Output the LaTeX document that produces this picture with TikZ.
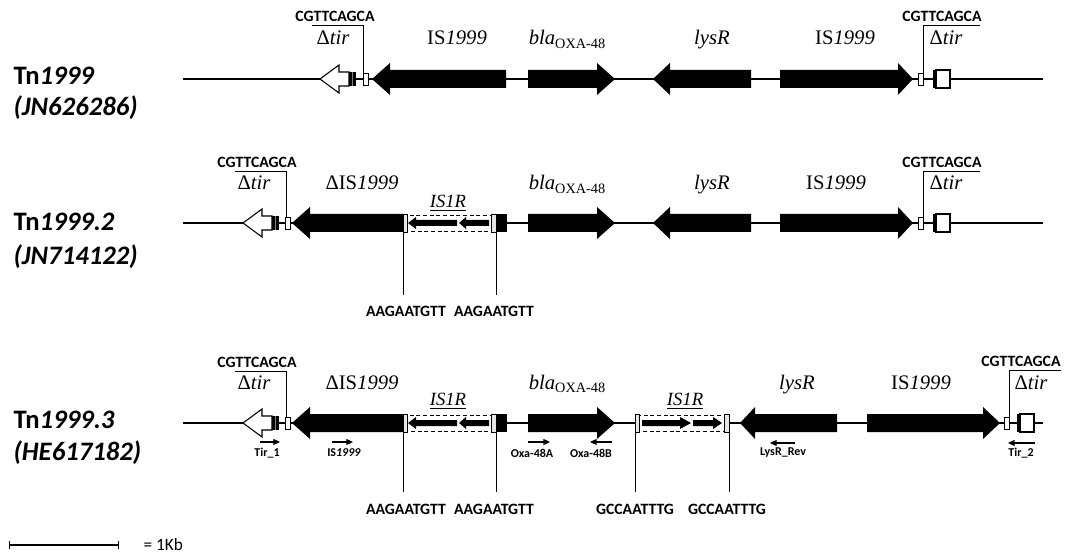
\documentclass[tikz,border=0pt]{standalone}
\usepackage{fontspec}
\setmainfont{Liberation Serif}
\setsansfont{Carlito}
\usetikzlibrary{arrows.meta}

% gene arrow: y, tail, head base, tip
\newcommand{\genearrow}[4]{\fill (#2,#1-9) -- (#3,#1-9) -- (#3,#1-16) -- (#4,#1) -- (#3,#1+16) -- (#3,#1+9) -- (#2,#1+9) -- cycle;}
% small arrow inside IS1R
\newcommand{\minigene}[4]{\fill (#2,#1-3) -- (#3,#1-3) -- (#3,#1-6) -- (#4,#1) -- (#3,#1+6) -- (#3,#1+3) -- (#2,#1+3) -- cycle;}
% white tir remnant (left) and tir box (right)
\newcommand{\tirleft}[2]{%
  \filldraw[fill=white,line width=0.8pt] (#2+29,#1-7) -- (#2+19,#1-7) -- (#2+19,#1-14) -- (#2,#1) -- (#2+19,#1+14) -- (#2+19,#1+7) -- (#2+29,#1+7) -- cycle;
  \fill (#2+29,#1-7) rectangle (#2+36,#1+7);
  \draw[gray,line width=0.5pt] (#2+32.5,#1-7) -- (#2+32.5,#1+7);}
\newcommand{\tirright}[2]{%
  \filldraw[fill=white,line width=1pt] (#2+3,#1-9) rectangle (#2+17,#1+9);
  \fill (#2,#1-9) rectangle (#2+4,#1+9);}
\newcommand{\irrect}[2]{\filldraw[fill=white,line width=0.6pt] (#2,#1-6) rectangle (#2+5,#1+6);}
% IS1R insertion: y, left end, right end
\newcommand{\isonebox}[3]{%
  \filldraw[fill=white,dash pattern=on 3pt off 2pt,line width=0.7pt] (#2+4,#1-8) rectangle (#3-5,#1+8);
  \filldraw[fill=gray!20,line width=0.6pt] (#2,#1-9) rectangle (#2+4,#1+9);
  \filldraw[fill=gray!20,line width=0.6pt] (#3-5,#1-9) rectangle (#3,#1+9);}
\newcommand{\oxa}{\textit{bla}\raisebox{-0.35ex}{\fontsize{10.7}{12}\selectfont OXA-48}}

\begin{document}
\begin{tikzpicture}[x=0.75pt,y=-0.75pt,line width=0.9pt,
  gn/.style={font=\fontsize{15.5}{18}\selectfont,inner sep=0pt,anchor=base},
  isr/.style={font=\fontsize{14}{16}\selectfont\itshape,inner sep=0pt,anchor=base},
  tag/.style={font=\sffamily\bfseries\fontsize{11.8}{13}\selectfont,inner sep=0pt,anchor=base},
  primer/.style={font=\sffamily\bfseries\fontsize{9}{11}\selectfont,inner sep=0pt},
  tn/.style={font=\sffamily\bfseries\fontsize{20}{24}\selectfont,inner sep=0pt,anchor=base west},
  pr/.style={line width=0.8pt,-{Triangle[length=5pt,width=4.5pt]}}]
  \useasboundingbox (0,0) rectangle (1066,555);

  % backbones
  \foreach \y in {79,223,423} \draw (183,\y) -- (1043,\y);

  % Tn1999
  \node[tn] (tn1) at (13,85) {Tn\textit{1999}};
  \node[tn] (acc1) at (13,116) {\textit{(JN626286)}};
  \tirleft{79}{320}
  \irrect{79}{363}
  \genearrow{79}{506}{390}{372}
  \genearrow{79}{528}{597}{615}
  \genearrow{79}{751}{670}{653}
  \genearrow{79}{780}{898}{913}
  \irrect{79}{918}
  \tirright{79}{933}
  \node[tag] (cg1l) at (335,22) {CGTTCAGCA};
  \draw[line width=0.6pt] (312,25) -- (363,25) -- (363,73);
  \node[tag] (cg1r) at (942,22) {CGTTCAGCA};
  \draw[line width=0.6pt] (980,25) -- (923,25) -- (923,73);
  \node[gn] (tir1l) at (333,45) {Δ\textit{tir}};
  \node[gn] (is1a) at (457,45) {IS\textit{1999}};
  \node[gn] (bla1) at (567,45) {\oxa};
  \node[gn] (lys1) at (712,45) {\textit{lysR}};
  \node[gn] (is1b) at (845,45) {IS\textit{1999}};
  \node[gn] (tir1r) at (946,45) {Δ\textit{tir}};

  % Tn1999.2
  \node[tn] (tn2) at (13,231) {Tn\textit{1999.2}};
  \node[tn] (acc2) at (13,265) {\textit{(JN714122)}};
  \tirleft{223}{243}
  \irrect{223}{285}
  \genearrow{223}{403}{310}{292}
  \isonebox{223}{403}{496}
  \minigene{223}{457}{416}{408}
  \minigene{223}{489}{466}{459}
  \fill (496,214) rectangle (507,232);
  \genearrow{223}{528}{597}{615}
  \genearrow{223}{751}{670}{653}
  \genearrow{223}{780}{898}{913}
  \irrect{223}{918}
  \tirright{223}{933}
  \node[tag] (cg2l) at (257,168) {CGTTCAGCA};
  \draw[line width=0.6pt] (235,171) -- (286,171) -- (286,217);
  \node[tag] (cg2r) at (942,168) {CGTTCAGCA};
  \draw[line width=0.6pt] (980,171) -- (923,171) -- (923,217);
  \node[gn] (tir2l) at (254,190) {Δ\textit{tir}};
  \node[gn] (is2a) at (362,190) {ΔIS\textit{1999}};
  \node[isr] (isr2) at (448,208) {\underline{IS1R}};
  \node[gn] (bla2) at (567,190) {\oxa};
  \node[gn] (lys2) at (712,190) {\textit{lysR}};
  \node[gn] (is2b) at (836,190) {IS\textit{1999}};
  \node[gn] (tir2r) at (946,190) {Δ\textit{tir}};
  \draw[line width=0.6pt] (403,232) -- (403,295);
  \draw[line width=0.6pt] (496,232) -- (496,295);
  \node[tag] (dr2a) at (406,317) {AAGAATGTT};
  \node[tag] (dr2b) at (494,317) {AAGAATGTT};

  % Tn1999.3
  \node[tn] (tn3) at (13,428) {Tn\textit{1999.3}};
  \node[tn] (acc3) at (13,460) {\textit{(HE617182)}};
  \tirleft{423}{243}
  \irrect{423}{285}
  \genearrow{423}{403}{310}{292}
  \isonebox{423}{403}{496}
  \minigene{423}{457}{416}{408}
  \minigene{423}{489}{466}{459}
  \fill (496,414) rectangle (507,432);
  \genearrow{423}{528}{597}{615}
  \isonebox{423}{635}{729}
  \minigene{423}{642}{680}{691}
  \minigene{423}{693}{713}{722}
  \genearrow{423}{837}{755}{740}
  \genearrow{423}{867}{983}{1000}
  \irrect{423}{1004}
  \tirright{423}{1017}
  \node[tag] (cg3l) at (257,368) {CGTTCAGCA};
  \draw[line width=0.6pt] (235,371) -- (286,371) -- (286,417);
  \node[tag] (cg3r) at (1021,367) {CGTTCAGCA};
  \draw[line width=0.6pt] (1061,370) -- (1009,370) -- (1009,417);
  \node[gn] (tir3l) at (254,389) {Δ\textit{tir}};
  \node[gn] (is3a) at (362,389) {ΔIS\textit{1999}};
  \node[isr] (isr3a) at (448,406) {\underline{IS1R}};
  \node[gn] (bla3) at (567,389) {\oxa};
  \node[isr] (isr3b) at (685,406) {\underline{IS1R}};
  \node[gn] (lys3) at (797,389) {\textit{lysR}};
  \node[gn] (is3b) at (921,389) {IS\textit{1999}};
  \node[gn] (tir3r) at (1031,389) {Δ\textit{tir}};
  \foreach \x in {403,496,635,729} \draw[line width=0.6pt] (\x,432) -- (\x,492);
  \node[tag] (dr3a) at (406,514) {AAGAATGTT};
  \node[tag] (dr3b) at (494,514) {AAGAATGTT};
  \node[tag] (dr3c) at (635,514) {GCCAATTTG};
  \node[tag] (dr3d) at (727,514) {GCCAATTTG};

  % primers
  \draw[pr] (260,442) -- (280,442);
  \node[primer] (tir1) at (267,453) {Tir\_1};
  \draw[pr] (332,442) -- (353,442);
  \node[primer] (isp) at (344,453) {IS\textit{1999}};
  \draw[pr] (528,442) -- (550,442);
  \node[primer] (oxa) at (532,453) {Oxa-48A};
  \draw[pr] (612,442) -- (590,442);
  \node[primer] (oxb) at (591,453) {Oxa-48B};
  \draw[pr] (795,443) -- (770,443);
  \node[primer] (lysrev) at (783,453) {LysR\_Rev};
  \draw[pr] (1035,443) -- (1008,443);
  \node[primer] (tir2) at (1021,453) {Tir\_2};

  % scale
  \draw[{Bar[width=6pt]}-{Bar[width=6pt]}] (9,545) -- (119,545);
  \node[anchor=west,inner sep=0pt,font=\sffamily\fontsize{13}{15}\selectfont] (kb) at (143,545) {= 1Kb};
\end{tikzpicture}
\end{document}
